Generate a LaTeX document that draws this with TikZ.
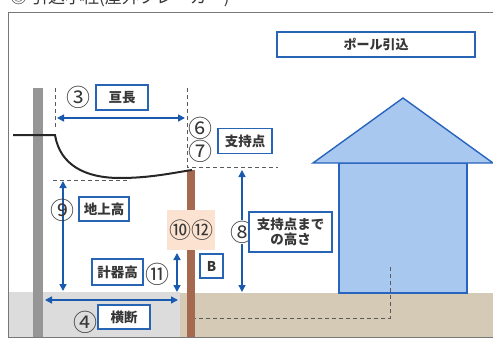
\documentclass[tikz,border=0pt]{standalone}
\usepackage{fontspec}
\setmainfont{Noto Sans CJK JP}
\usetikzlibrary{arrows.meta}

\definecolor{boxblue}{RGB}{40,100,180}
\definecolor{arrowblue}{RGB}{25,90,175}
\definecolor{housefill}{RGB}{168,200,240}
\definecolor{housestroke}{RGB}{40,100,190}
\definecolor{groundgray}{RGB}{220,220,220}
\definecolor{groundtan}{RGB}{212,202,182}
\definecolor{polegray}{RGB}{150,150,150}
\definecolor{polebrown}{RGB}{165,105,80}
\definecolor{meterpeach}{RGB}{252,226,208}
\definecolor{dashgray}{RGB}{90,90,90}
\definecolor{framegray}{RGB}{120,120,120}
\definecolor{txt}{RGB}{55,55,55}

\tikzset{
  labelbox/.style={draw=boxblue, line width=1.4pt, fill=white, text=txt,
    font=\fontsize{13.5}{15}\selectfont\bfseries, inner sep=0pt, align=center},
  num/.style={text=txt, font=\fontsize{24}{24}\selectfont, inner sep=0pt},
  dimarrow/.style={draw=arrowblue, line width=1.4pt,
    {Triangle[width=7pt,length=7pt]}-{Triangle[width=7pt,length=7pt]}},
  guide/.style={draw=dashgray, line width=0.9pt, dash pattern=on 4pt off 3pt},
}

\begin{document}
\begin{tikzpicture}[x=1pt,y=-1pt]
\useasboundingbox (0,0) rectangle (493,340);
\clip (0,0) rectangle (493,340);

% heading above the frame
\node[anchor=base west, text=txt, font=\fontsize{17}{17}\selectfont, inner sep=0pt]
  (title) at (10,3) {◎ 引込小柱(屋外ブレーカー)};

% ground strips
\fill[groundgray] (8,292) rectangle (180,337);
\fill[groundtan] (180,293) rectangle (500,337);

% frame
\draw[framegray, line width=1pt] (8,12) rectangle (505,337);

% house
\draw[housestroke, fill=housefill, line width=1.4pt] (339,163) rectangle (467,293);
\draw[housestroke, fill=housefill, line width=1.4pt]
  (313,163) -- (403,98) -- (493,163) -- cycle;

% underground line from house to pole
\coordinate (hin) at (390,267);
\coordinate (hbend) at (390,318);
\coordinate (pbase) at (195,318);
\draw[guide] (hin) -- (hbend) -- (pbase);

% utility pole
\fill[polegray] (33,88) rectangle (43,337);

% service pole
\fill[polebrown] (187,170) rectangle (195,337);

% meter area
\node[fill=meterpeach, minimum width=48pt, minimum height=40pt, inner sep=0pt]
  (meter) at (191,230) {};
\node[num, font=\fontsize{22}{22}\selectfont] (n1012) at (191,230) {⑩⑫};

% guide lines
\coordinate (gl1) at (55,88);
\coordinate (gl2) at (55,130);
\draw[guide] (gl1) -- (gl2);
\coordinate (gr1) at (187,88);
\coordinate (gr2) at (187,167);
\coordinate (gr3) at (278,167);
\draw[guide] (gr1) -- (gr2) -- (gr3);
\coordinate (gg1) at (53,180);
\coordinate (gg2) at (130,180);
\draw[guide] (gg1) -- (gg2);

% service drop wire
\coordinate (w0) at (13,135);
\coordinate (w1) at (55,135);
\coordinate (w2) at (120,178);
\coordinate (w3) at (192,170);
\draw[black!85, line width=2pt]
  (w0) -- (w1) .. controls (60,165) and (85,178) .. (w2)
  .. controls (150,178) and (172,173) .. (w3);

% dimension arrows
\coordinate (s3a) at (57,118);  \coordinate (s3b) at (185,118);
\draw[dimarrow] (s3a) -- (s3b);
\coordinate (s9a) at (63,181);  \coordinate (s9b) at (63,291);
\draw[dimarrow] (s9a) -- (s9b);
\coordinate (s11a) at (177,253); \coordinate (s11b) at (177,292);
\draw[dimarrow] (s11a) -- (s11b);
\coordinate (s4a) at (45,300);  \coordinate (s4b) at (178,300);
\draw[dimarrow] (s4a) -- (s4b);
\coordinate (s8a) at (242,170); \coordinate (s8b) at (242,292);
\draw[dimarrow] (s8a) -- (s8b);

% numbers
\node[num] (n3) at (78,97) {③};
\node[num] (n6) at (200,128) {⑥};
\node[num] (n7) at (200,151) {⑦};
\node[num] (n9) at (62,210) {⑨};
\node[num] (n11) at (157,274) {⑪};
\node[num, fill=white, inner sep=1pt] (n8) at (242,232) {⑧};
\node[num] (n4) at (85,322) {④};

% labels
\node[labelbox, minimum width=52pt, minimum height=25pt] (wire) at (122,97.5) {亘長};
\node[labelbox, minimum width=54pt, minimum height=25pt] (support) at (245,141) {支持点};
\node[labelbox, minimum width=50pt, minimum height=24pt] (ground) at (104,209) {地上高};
\node[labelbox, minimum width=51pt, minimum height=26pt] (meterh) at (117.5,272) {計器高};
\node[labelbox, minimum width=52pt, minimum height=24pt] (cross) at (124,317) {横断};
\node[labelbox, minimum width=23pt, minimum height=24pt] (b) at (211.5,266) {B};
\node[labelbox, minimum width=83pt, minimum height=40pt] (height) at (290.5,232) {支持点まで\\の高さ};
\node[labelbox, minimum width=198pt, minimum height=25pt,
  font=\fontsize{13}{15}\selectfont\bfseries] (pole) at (376,44.5) {ポール引込};
\end{tikzpicture}
\end{document}
